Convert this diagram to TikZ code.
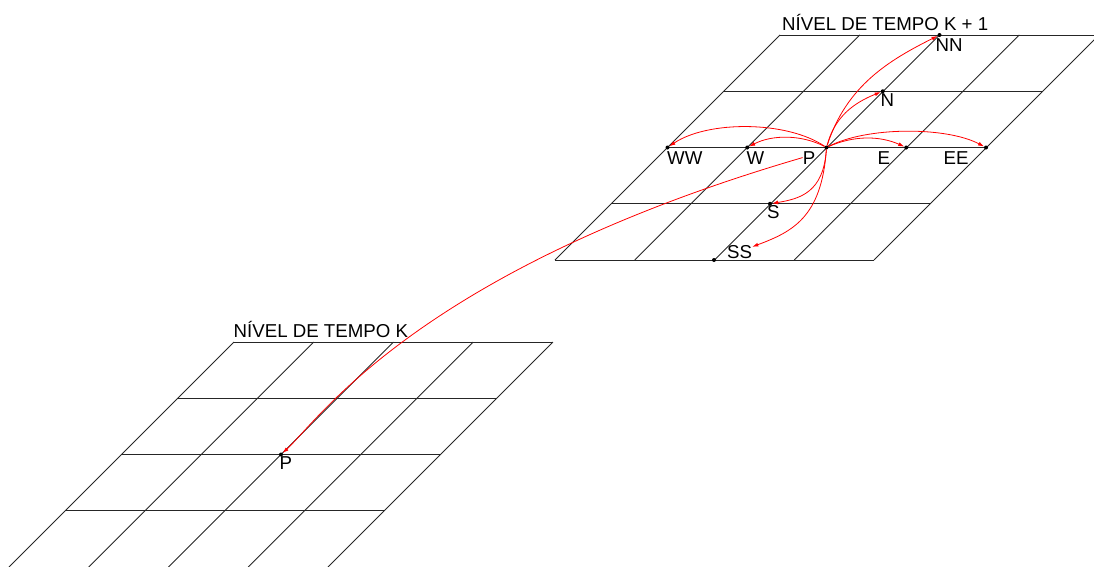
\documentclass[tikz,border=0pt]{standalone}
\usepackage{fontspec}
\setmainfont{Liberation Sans}
\usetikzlibrary{arrows.meta,calc}
\begin{document}
\begin{tikzpicture}[x=1pt,y=-1pt,
  gridline/.style={line width=0.8pt, black!85},
  dot/.style={circle,fill=black,inner sep=0pt,minimum size=4pt},
  lbl/.style={inner sep=0pt,anchor=base west,font=\fontsize{18.67}{22}\selectfont},
  arr/.style={red, line width=0.8pt, -{Latex[length=6pt,width=4pt]}}]
\clip (0,0) rectangle (1094,566);
% upper grid (time level K+1)
\foreach \i in {0,...,4} \draw[gridline] ({780-56.25*\i},{35+56.25*\i}) -- ++(319,0);
\foreach \j in {0,...,4} \draw[gridline] ({780+79.75*\j},35) -- ++(-225,225);
% lower grid (time level K)
\foreach \i in {0,...,3} \draw[gridline] ({234-56.25*\i},{342+56.25*\i}) -- ++(319,0);
\foreach \j in {0,...,4} \draw[gridline] ({234+79.75*\j},342) -- ++(-225,225);
% points
\node[dot] (NN) at (939.5,35) {};
\node[dot] (N) at (882.75,91.25) {};
\node[dot] (WW) at (667.5,147.5) {};
\node[dot] (W) at (747.25,147.5) {};
\node[dot] (P) at (826.5,147.5) {};
\node[dot] (E) at (906.25,147.5) {};
\node[dot] (EE) at (986,147.5) {};
\node[dot] (S) at (770,203.75) {};
\node[dot] (SS) at (714,260) {};
\node[dot] (PK) at (281,454.5) {};
% labels
\node[lbl] (tK1) at (782,30) {NÍVEL DE TEMPO K + 1};
\node[lbl] (tK) at (233.5,337) {NÍVEL DE TEMPO K};
\node[lbl] (NNl) at (935.5,51) {NN};
\node[lbl] (Nl) at (880.5,106) {N};
\node[lbl] (WWl) at (667,164) {WW};
\node[lbl] (Wl) at (746.5,164) {W};
\node[lbl] (Pl) at (802.6,164) {P};
\node[lbl] (El) at (877.5,164) {E};
\node[lbl] (EEl) at (943.5,164) {EE};
\node[lbl] (Sl) at (767,218) {S};
\node[lbl] (SSl) at (727,258) {SS};
\node[lbl] (PKl) at (279.5,469) {P};
% arrows
\draw[arr] (P) .. controls +(20,-62) and +(-50,25) .. (NN);
\draw[arr] (P) .. controls +(8,-30) and +(-30,12) .. (N);
\draw[arr] (P) .. controls +(-40,-27) and +(40,-27) .. (WW);
\draw[arr] (P) .. controls +(-25,-13) and +(25,-13) .. (W);
\draw[arr] (P) .. controls +(27,-12) and +(-27,-12) .. (E);
\draw[arr] (P) .. controls +(40,-21) and +(-40,-21) .. (EE);
\draw[arr] (P) .. controls +(-3,45) and +(30,-5) .. (S);
\draw[arr] (P) .. controls +(-5,70) and +(40,-15) .. ($(SSl.north east)+(0,2)$);
\draw[arr] (Pl.west) .. controls +(-384,112) and +(37,-34) .. (PK);
\end{tikzpicture}
\end{document}
